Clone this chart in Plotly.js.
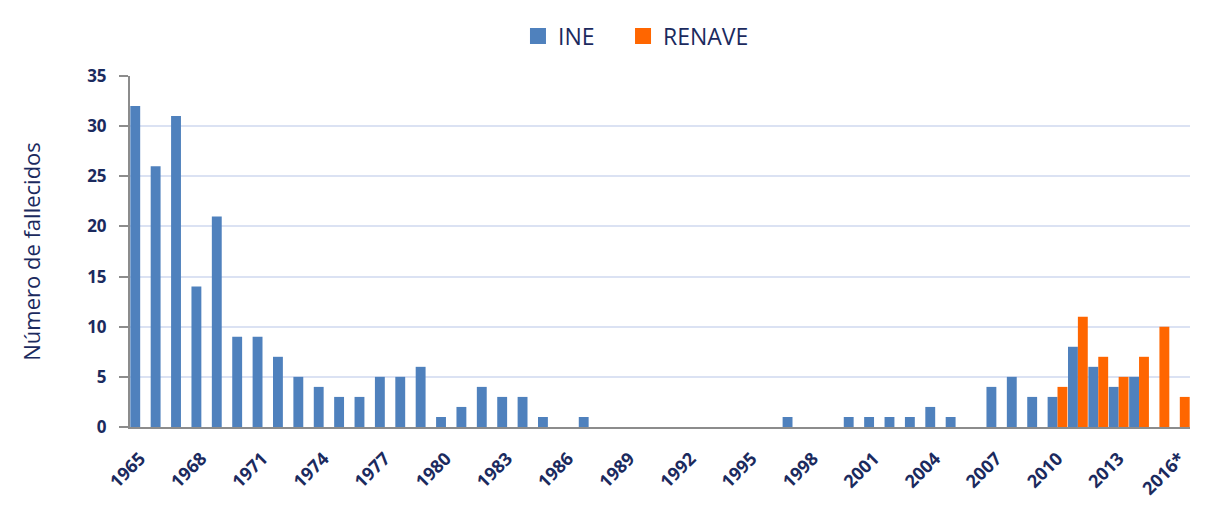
<!DOCTYPE html>
<html>
<head>
<meta charset="utf-8">
<script src="https://cdn.plot.ly/plotly-3.0.1.min.js"></script>
<style>html,body{margin:0;padding:0;background:#fff;}#chart{width:1206px;height:506px;}</style>
</head>
<body>
<div id="chart"></div>
<script>
const years = ["1965","1966","1967","1968","1969","1970","1971","1972","1973","1974",
  "1975","1976","1977","1978","1979","1980","1981","1982","1983","1984",
  "1985","1986","1987","1988","1989","1990","1991","1992","1993","1994",
  "1995","1996","1997","1998","1999","2000","2001","2002","2003","2004",
  "2005","2006","2007","2008","2009","2010","2011","2012","2013","2014",
  "2015","2016*"];
const ine = [32,26,31,14,21,9,9,7,5,4,
  3,3,5,5,6,1,2,4,3,3,
  1,0,1,0,0,0,0,0,0,0,
  0,0,1,0,0,1,1,1,1,2,
  1,0,4,5,3,3,8,6,4,5,
  null,null];
const renave = [null,null,null,null,null,null,null,null,null,null,
  null,null,null,null,null,null,null,null,null,null,
  null,null,null,null,null,null,null,null,null,null,
  null,null,null,null,null,null,null,null,null,null,
  null,null,null,null,null,4,11,7,5,7,
  10,3];
const tickLabels = ["1965","1968","1971","1974","1977","1980","1983","1986","1989","1992",
  "1995","1998","2001","2004","2007","2010","2013","2016*"];
const seriesNames = ["INE","RENAVE"];
const seriesColors = ["#4f81bd","#ff6600"];

const navy = "#1b2a5e";
const traces = [
  {type:"bar", name:seriesNames[0], x:years, y:ine, marker:{color:seriesColors[0]}, showlegend:false},
  {type:"bar", name:seriesNames[1], x:years, y:renave, marker:{color:seriesColors[1]}, showlegend:false},
  {type:"scatter", mode:"markers", name:seriesNames[0], x:[null], y:[null], legend:"legend",
    marker:{symbol:"square", size:18, color:seriesColors[0]}},
  {type:"scatter", mode:"markers", name:seriesNames[1], x:[null], y:[null], legend:"legend2",
    marker:{symbol:"square", size:18, color:seriesColors[1]}}
];
const legendBase = {orientation:"h", xref:"container", xanchor:"left",
    yref:"container", y:0.929, yanchor:"middle",
    font:{size:23, color:navy}, itemwidth:30, bgcolor:"rgba(0,0,0,0)"};
const layout = {
  width:1206, height:506,
  margin:{l:130, r:16, t:76, b:79},
  paper_bgcolor:"#fff", plot_bgcolor:"#fff",
  barmode:"group", bargap:0.03, bargroupgap:0,
  font:{family:"Open Sans, Liberation Sans, sans-serif", color:navy},
  showlegend:true,
  legend:Object.assign({}, legendBase, {x:0.4295}),
  legend2:Object.assign({}, legendBase, {x:0.5166}),
  xaxis:{type:"category", categoryorder:"array", categoryarray:years,
    tickmode:"array", tickvals:tickLabels, ticktext:tickLabels,
    tickangle:-45, tickfont:{size:18, color:navy, family:"Open Sans, sans-serif", weight:"bold"},
    ticklabelstandoff:12,
    showline:true, linecolor:"#8c8c8c", linewidth:2, ticks:"", showgrid:false, zeroline:false},
  yaxis:{range:[0,35], dtick:5, tickfont:{size:17, color:navy, weight:"bold"},
    ticklabelstandoff:9,
    showline:true, linecolor:"#8c8c8c", linewidth:2, ticks:"outside", ticklen:9, tickcolor:"#8c8c8c", tickwidth:2,
    gridcolor:"#dbe2f3", gridwidth:2, zeroline:false,
    title:{text:"Número de fallecidos", font:{size:22, color:navy}, standoff:40}}
};
Plotly.newPlot("chart", traces, layout, {displayModeBar:false, staticPlot:true});
</script>
</body>
</html>
